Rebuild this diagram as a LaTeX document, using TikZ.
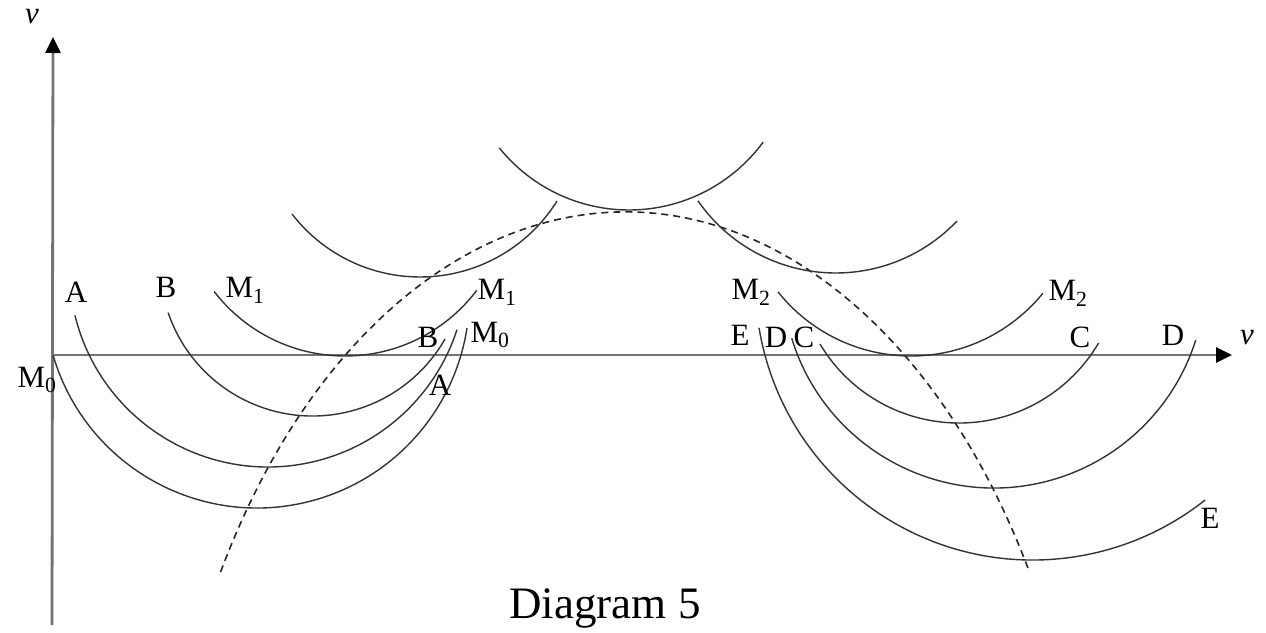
\documentclass[tikz,border=0pt]{standalone}
\usepackage{fontspec}
\setmainfont{Liberation Serif}
\usetikzlibrary{arrows.meta}
\newcommand\uarc[5]{\draw[arcline] (#1,#2) ++(#4:#3) arc[start angle=#4, end angle=#5, radius=#3];}
\begin{document}
\begin{tikzpicture}[x=1pt,y=1pt,
  arcline/.style={line width=1.4pt, black!80},
  axisline/.style={line width=2.8pt, black!55, -{Triangle[length=16pt,width=15pt,color=black]}},
  dashline/.style={line width=1.6pt, black!85, dash pattern=on 7pt off 5pt},
  lbl/.style={font=\fontsize{31}{36}\selectfont, inner sep=0pt},
  titlelbl/.style={font=\fontsize{45}{52}\selectfont, inner sep=0pt}]
\useasboundingbox (0,0) rectangle (1266,-632);
% axes
\coordinate (ybot) at (52,-625);
\coordinate (ytop) at (53,-37);
\coordinate (xleft) at (52,-355);
\coordinate (xright) at (1232,-355);
\draw[axisline] (ybot) -- (ytop);
\draw[axisline] (xleft) -- (xright);
\node[lbl] (vy) at (32,-17) {\textit{v}};
\node[lbl] (vx) at (1247,-338) {\textit{v}};
% dashed curve
\coordinate (dc) at (625,-932);
\draw[dashline] (dc) ++(150:467 and 720) arc[start angle=150, end angle=30, x radius=467, y radius=720];
% upper arcs
\uarc{629}{-43.5}{166.5}{218.8}{323.7}
\uarc{420}{-115.5}{161.5}{217.6}{328}
\uarc{835.7}{-105.5}{167.5}{214.7}{316.4}
% left group
\uarc{345}{-191}{165}{217.5}{323}
\uarc{312.5}{-263.5}{152.5}{198.8}{330.3}
\uarc{268}{-268.3}{198.7}{193.7}{342}
\uarc{257}{-295.5}{212.5}{196.3}{351.2}
% right group
\uarc{911}{-186}{170}{218.5}{320.9}
\uarc{959}{-261.2}{161.8}{210.8}{329.6}
\uarc{994}{-276.5}{211.5}{197}{342.5}
\uarc{1032.8}{-282.5}{277.5}{189.4}{308.4}
% labels left
\node[lbl] (Al) at (76,-292) {A};
\node[lbl] (Bl) at (166,-287) {B};
\node[lbl] (M1l) at (245,-290) {M\textsubscript{1}};
\node[lbl] (M1r) at (497,-292) {M\textsubscript{1}};
\node[lbl] (Br) at (428,-337) {B};
\node[lbl] (M0r) at (490,-335) {M\textsubscript{0}};
\node[lbl] (Ar) at (440,-385) {A};
\node[lbl] (M0l) at (37,-380) {M\textsubscript{0}};
% labels right
\node[lbl] (M2l) at (751,-292) {M\textsubscript{2}};
\node[lbl] (M2r) at (1068,-293) {M\textsubscript{2}};
\node[lbl] (El) at (740,-335) {E};
\node[lbl] (Dl) at (776,-337) {D};
\node[lbl] (Cl) at (804,-337) {C};
\node[lbl] (Cr) at (1080,-337) {C};
\node[lbl] (Dr) at (1173,-335) {D};
\node[lbl] (Er) at (1210,-518) {E};
\node[titlelbl] (title) at (605,-608) {Diagram 5};
\end{tikzpicture}
\end{document}
